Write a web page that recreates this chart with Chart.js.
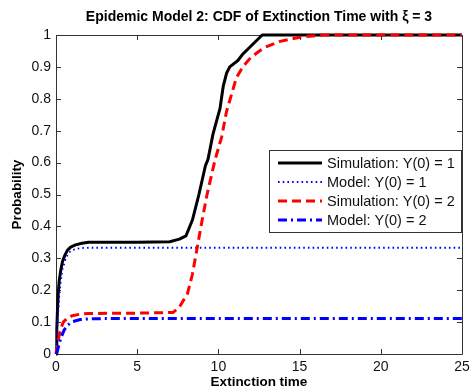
<!DOCTYPE html>
<html>
<head>
<meta charset="utf-8">
<script src="https://cdn.jsdelivr.net/npm/chart.js@4/dist/chart.umd.min.js"></script>
<style>
  html, body { margin: 0; padding: 0; background: #fff; }
  #wrap { width: 471px; height: 390px; position: relative; }
</style>
</head>
<body>
<div id="wrap"><canvas id="c"></canvas></div>
<script>
// ---- Data ----
const titleText = 'Epidemic Model 2: CDF of Extinction Time with \u03BE = 3';
const xAxisTitle = 'Extinction time';
const yAxisTitle = 'Probability';
const seriesLabels = ['Simulation: Y(0) = 1', 'Model: Y(0) = 1', 'Simulation: Y(0) = 2', 'Model: Y(0) = 2'];
const xTickValues = [0, 5, 10, 15, 20, 25];
const yTickLabels = ['0', '0.1', '0.2', '0.3', '0.4', '0.5', '0.6', '0.7', '0.8', '0.9', '1'];

const sim1X = [0, 0.05, 0.1, 0.15, 0.2, 0.3, 0.4, 0.55, 0.7, 0.9, 1.2, 1.6, 2.0, 3, 5, 7, 7.6, 8.0, 8.4, 8.8, 9.2, 9.36, 9.67, 10.1, 10.3, 10.5, 10.7, 11.2, 11.5, 11.9, 12.4, 12.7, 13, 25];
const sim1Y = [0, 0.08, 0.15, 0.2, 0.23, 0.265, 0.29, 0.31, 0.325, 0.335, 0.342, 0.347, 0.35, 0.35, 0.35, 0.352, 0.36, 0.37, 0.42, 0.50, 0.59, 0.61, 0.69, 0.77, 0.84, 0.88, 0.90, 0.92, 0.94, 0.96, 0.985, 1.0, 1.0, 1.0];

const model1X = [0, 0.1, 0.2, 0.3, 0.4, 0.6, 0.8, 1.0, 1.5, 2, 25];
const model1Y = [0, 0.1, 0.18, 0.23, 0.265, 0.3, 0.318, 0.326, 0.332, 0.333, 0.333];

const sim2X = [0, 0.1, 0.2, 0.3, 0.45, 0.7, 1.0, 1.5, 2, 5, 7.2, 7.6, 8.1, 8.4, 8.7, 9.0, 9.3, 9.8, 10.2, 10.5, 11.1, 11.5, 12.0, 12.8, 13.8, 15.0, 15.8, 16.5, 25];
const sim2Y = [0, 0.03, 0.06, 0.08, 0.1, 0.113, 0.12, 0.125, 0.127, 0.128, 0.13, 0.147, 0.19, 0.25, 0.335, 0.42, 0.50, 0.61, 0.68, 0.76, 0.865, 0.90, 0.93, 0.96, 0.98, 0.993, 0.997, 1.0, 1.0];

const model2X = [0, 0.1, 0.2, 0.3, 0.5, 0.7, 1.0, 1.5, 2, 3, 25];
const model2Y = [0, 0.012, 0.033, 0.05, 0.075, 0.09, 0.101, 0.108, 0.11, 0.111, 0.111];

const pts = (xs, ys) => xs.map((x, i) => ({ x: x, y: ys[i] }));

const FONT = "'Liberation Sans', Arial, Helvetica, sans-serif";

// Box + inward tick marks (Matlab style)
const boxPlugin = {
  id: 'box',
  beforeDatasetsDraw(chart) {
    const { ctx, chartArea: a, scales } = chart;
    ctx.save();
    ctx.strokeStyle = '#333';
    ctx.lineWidth = 1;
    ctx.beginPath();
    ctx.rect(Math.round(a.left) + 0.5, Math.round(a.top) + 0.5, Math.round(a.right - a.left), Math.round(a.bottom - a.top));
    ctx.stroke();
    const L = 5;
    ctx.beginPath();
    scales.x.ticks.forEach(t => {
      const px = Math.round(scales.x.getPixelForValue(t.value)) + 0.5;
      ctx.moveTo(px, a.bottom); ctx.lineTo(px, a.bottom - L);
      ctx.moveTo(px, a.top); ctx.lineTo(px, a.top + L);
    });
    scales.y.ticks.forEach(t => {
      const py = Math.round(scales.y.getPixelForValue(t.value)) + 0.5;
      ctx.moveTo(a.left, py); ctx.lineTo(a.left + L, py);
      ctx.moveTo(a.right, py); ctx.lineTo(a.right - L, py);
    });
    ctx.stroke();
    ctx.restore();
  }
};

// Legend box inside the plot, drawn from the datasets
const legendPlugin = {
  id: 'inLegend',
  afterDatasetsDraw(chart) {
    const { ctx, chartArea: a } = chart;
    const bx = 269, by = 150, bw = a.right - 269, bh = 82;
    ctx.save();
    ctx.fillStyle = '#fff';
    ctx.fillRect(bx, by, bw, bh);
    ctx.strokeStyle = '#333';
    ctx.lineWidth = 1;
    ctx.strokeRect(bx + 0.5, by + 0.5, bw - 1, bh);
    const rows = [163, 182, 201, 220];
    chart.data.datasets.forEach((ds, i) => {
      const y = rows[i];
      ctx.beginPath();
      ctx.setLineDash(ds.borderDash || []);
      ctx.strokeStyle = ds.borderColor;
      ctx.lineWidth = ds.borderWidth;
      ctx.lineCap = 'butt';
      ctx.moveTo(278, y);
      ctx.lineTo(322, y);
      ctx.stroke();
      ctx.setLineDash([]);
      ctx.fillStyle = '#111';
      ctx.font = '14.5px ' + FONT;
      ctx.textBaseline = 'middle';
      ctx.textAlign = 'left';
      ctx.fillText(ds.label, 327, y + 0.5);
    });
    ctx.restore();
  }
};

new Chart(document.getElementById('c'), {
  type: 'line',
  data: {
    datasets: [
      { label: seriesLabels[0], data: pts(sim1X, sim1Y), borderColor: '#000000', borderWidth: 3, borderDash: [], order: 4 },
      { label: seriesLabels[1], data: pts(model1X, model1Y), borderColor: '#0000ff', borderWidth: 1.8, borderDash: [1.6, 3.1], order: 3 },
      { label: seriesLabels[2], data: pts(sim2X, sim2Y), borderColor: '#ff0000', borderWidth: 3, borderDash: [9, 5], order: 2 },
      { label: seriesLabels[3], data: pts(model2X, model2Y), borderColor: '#0000ff', borderWidth: 3, borderDash: [9, 4, 2, 4], order: 1 }
    ].map(d => Object.assign(d, { pointRadius: 0, tension: 0, fill: false, clip: false, borderJoinStyle: 'round' }))
  },
  options: {
    responsive: true,
    maintainAspectRatio: false,
    animation: false,
    layout: { padding: { left: 0, right: 9, top: 0, bottom: 0 } },
    plugins: {
      legend: { display: false },
      tooltip: { enabled: false },
      title: {
        display: true,
        text: titleText,
        fullSize: false,
        color: '#000',
        font: { family: FONT, size: 14, weight: 'bold', lineHeight: 1.2 },
        padding: { top: 9, bottom: 9.2 }
      }
    },
    scales: {
      x: {
        type: 'linear',
        min: 0, max: 25,
        afterBuildTicks(scale) { scale.ticks = xTickValues.map(v => ({ value: v })); },
        afterFit(scale) { scale.height = 36; scale.paddingLeft = 0; scale.paddingRight = 0; },
        grid: { display: false, drawTicks: false },
        border: { display: false },
        ticks: { color: '#111', padding: 5, maxRotation: 0, font: { family: FONT, size: 14 }, callback: v => String(v) },
        title: { display: true, text: xAxisTitle, color: '#000', padding: { top: 0, bottom: 0 }, font: { family: FONT, size: 13.5, weight: 'bold', lineHeight: 1.2 } }
      },
      y: {
        type: 'linear',
        min: 0, max: 1,
        afterBuildTicks(scale) { scale.ticks = yTickLabels.map(s => ({ value: parseFloat(s) })); },
        afterFit(scale) { scale.width = 56; scale.paddingTop = 0; scale.paddingBottom = 0; },
        grid: { display: false, drawTicks: false },
        border: { display: false },
        ticks: { color: '#111', padding: 5, font: { family: FONT, size: 14 }, callback: (v) => yTickLabels[Math.round(v * 10)] },
        title: { display: true, text: yAxisTitle, color: '#000', padding: { top: 9, bottom: 0 }, font: { family: FONT, size: 13.5, weight: 'bold', lineHeight: 1.2 } }
      }
    }
  },
  plugins: [boxPlugin, legendPlugin]
});
</script>
</body>
</html>
